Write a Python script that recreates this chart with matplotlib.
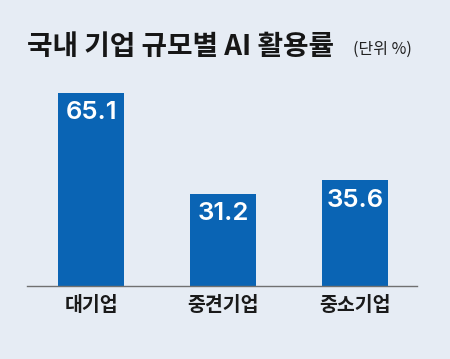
import matplotlib
matplotlib.use("Agg")
import matplotlib.pyplot as plt

plt.rcParams['font.family'] = ['Noto Sans CJK KR', 'DejaVu Sans']

# data
categories = ["대기업", "중견기업", "중소기업"]
values = [65.1, 31.2, 35.6]
value_labels = ["65.1", "31.2", "35.6"]

bg = "#e6ecf4"
bar_color = "#0a64b4"

fig = plt.figure(figsize=(4.5, 3.59), dpi=100, facecolor=bg)
ax = fig.add_axes([0.06, 0.2033, 0.867, 0.578])
ax.set_facecolor(bg)

ax.bar(range(len(values)), values, width=0.5, color=bar_color, zorder=2)
ax.set_xlim(-0.485, 2.47)
ax.set_ylim(0, 70)

for i, (v, lab) in enumerate(zip(values, value_labels)):
    ax.text(i, v - 2.8, lab, ha="center", va="top", color="white",
            fontsize=18.5, fontweight="semibold", family=["Inter", "DejaVu Sans"],
            zorder=3)

for s in ["top", "right", "left"]:
    ax.spines[s].set_visible(False)
ax.spines["bottom"].set_color("#707070")
ax.spines["bottom"].set_linewidth(1.0)
ax.set_yticks([])
ax.set_xticks(range(len(categories)))
ax.set_xticklabels(categories, fontsize=14, fontweight="bold", color="#1a1a1a")
ax.tick_params(axis="x", length=0, pad=7)

fig.text(0.06, 1 - 47 / 359, "국내 기업 규모별 AI 활용률", fontsize=20,
         fontweight="heavy", color="#161616", va="center", ha="left")
fig.text(0.785, 1 - 49 / 359, "(단위 %)", fontsize=11.5, fontweight="light",
         color="#222222", va="center", ha="left")

fig.savefig("out.png", dpi=100, facecolor=bg)
